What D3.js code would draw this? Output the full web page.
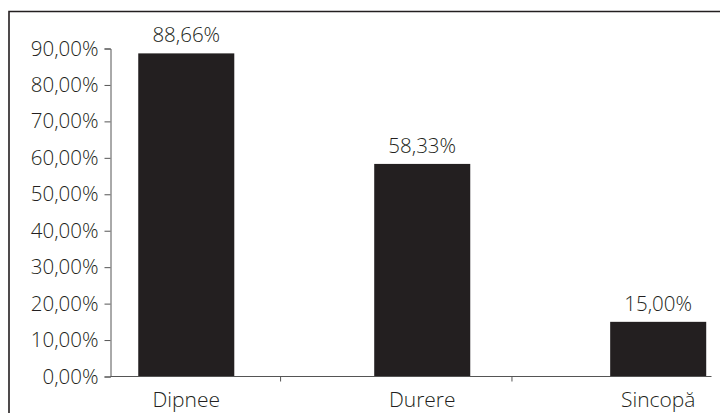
<!DOCTYPE html>
<html>
<head>
<meta charset="utf-8">
<script src="https://cdn.jsdelivr.net/npm/d3@7"></script>
<style>
  html, body { margin: 0; padding: 0; background: #fff; }
  svg { display: block; }
  text { font-family: "Open Sans", "Noto Sans", sans-serif; font-weight: 300; fill: #231f20; }
</style>
</head>
<body>
<svg id="chart" width="720" height="413"></svg>
<script>
// Symptom frequencies (percent)
const categories = ["Dipnee", "Durere", "Sincopă"];
const values = [88.66, 58.33, 15.00];
const valueLabels = ["88,66%", "58,33%", "15,00%"];
const yTicks = [0, 10, 20, 30, 40, 50, 60, 70, 80, 90];
const yTickLabels = ["0,00%", "10,00%", "20,00%", "30,00%", "40,00%", "50,00%", "60,00%", "70,00%", "80,00%", "90,00%"];

const svg = d3.select("#chart");
const ink = "#231f20";

// Plot frame
const plot = { left: 110.5, right: 711.5, top: 48.5, bottom: 376.5 };

// Frame around the whole figure (open at right and bottom edges)
svg.append("path")
  .attr("d", "M9,413 L9,11.5 L720,11.5")
  .attr("fill", "none")
  .attr("stroke", ink)
  .attr("stroke-width", 1.6);

const y = d3.scaleLinear()
  .domain([0, 90])
  .range([plot.bottom, plot.top]);

// Bars share a band scale; bars sit slightly right within the axis span
const x = d3.scaleBand()
  .domain(categories)
  .range([plot.left, plot.right])
  .paddingInner(0.593)
  .paddingOuter(0.07)
  .align(0.84);

// Y axis
const yAxis = d3.axisLeft(y)
  .tickValues(yTicks)
  .tickFormat((d, i) => yTickLabels[i])
  .tickSize(6)
  .tickPadding(6);

const gy = svg.append("g")
  .attr("transform", `translate(${plot.left},0)`)
  .call(yAxis);
gy.select(".domain").attr("stroke", "#555").attr("stroke-width", 1);
gy.selectAll(".tick line").attr("stroke", "#555");
gy.selectAll(".tick text")
  .attr("font-size", 20.5)
  .attr("fill", ink)
  .attr("font-weight", 300)
  .attr("font-family", "\"Open Sans\", sans-serif");

// Bars
svg.append("g").selectAll("rect")
  .data(values)
  .join("rect")
  .attr("x", (d, i) => x(categories[i]))
  .attr("y", d => y(d))
  .attr("width", x.bandwidth())
  .attr("height", d => y(0) - y(d))
  .attr("fill", ink);

// X axis baseline with category separators
svg.append("line")
  .attr("x1", plot.left).attr("x2", plot.right)
  .attr("y1", plot.bottom).attr("y2", plot.bottom)
  .attr("stroke", "#555").attr("stroke-width", 1);

const separators = [0.283, 0.668];
svg.append("g").selectAll("line")
  .data(separators)
  .join("line")
  .attr("x1", f => plot.left + f * (plot.right - plot.left))
  .attr("x2", f => plot.left + f * (plot.right - plot.left))
  .attr("y1", plot.bottom).attr("y2", plot.bottom + 5)
  .attr("stroke", "#555");

// Category labels
svg.append("g").selectAll("text")
  .data(categories)
  .join("text")
  .attr("x", d => x(d) + x.bandwidth() / 2)
  .attr("y", 407)
  .attr("text-anchor", "middle")
  .attr("font-size", 21)
  .text(d => d);

// Value labels above bars
svg.append("g").selectAll("text")
  .data(values)
  .join("text")
  .attr("x", (d, i) => x(categories[i]) + x.bandwidth() / 2)
  .attr("y", d => y(d) - 11)
  .attr("text-anchor", "middle")
  .attr("font-size", 20.5)
  .text((d, i) => valueLabels[i]);
</script>
</body>
</html>
